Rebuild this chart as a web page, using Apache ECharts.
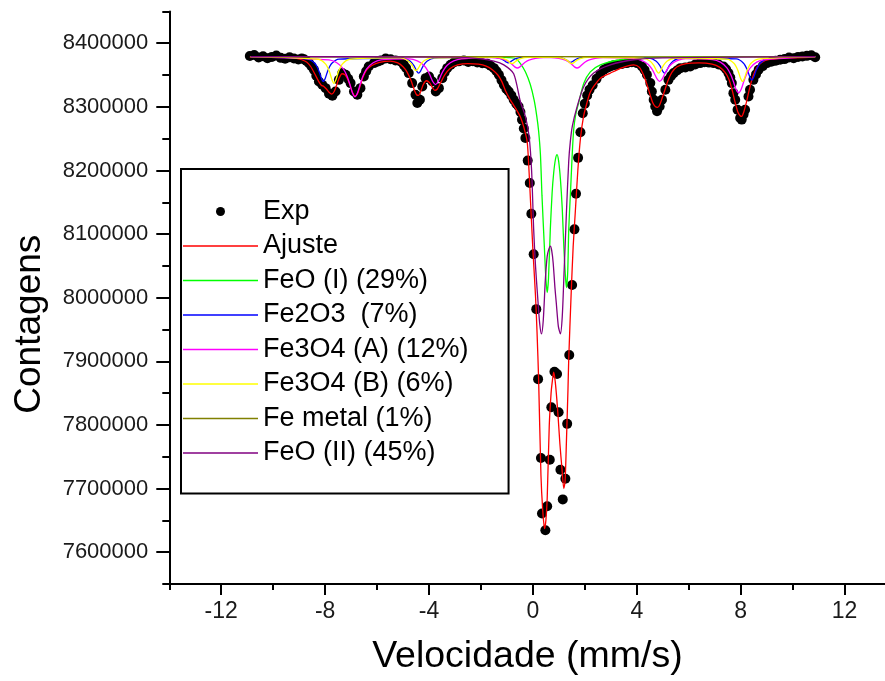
<!DOCTYPE html>
<html>
<head>
<meta charset="utf-8">
<script src="https://cdn.jsdelivr.net/npm/echarts@6/dist/echarts.min.js"></script>
<style>
html,body{margin:0;padding:0;background:#fff;overflow:hidden;}
#chart{width:900px;height:681px;}
</style>
</head>
<body>
<div id="chart"></div>
<script>
// Mössbauer spectrum: measured counts and fitted sub-spectra, [velocity mm/s, counts]

const expPoints = [
  [-10.90,8380000],[-10.73,8381500],[-10.56,8377500],[-10.39,8379500],[-10.22,8376500],[-10.05,8378500],
  [-9.88,8380500],[-9.71,8377000],[-9.54,8375500],[-9.37,8378000],[-9.20,8376000],[-9.03,8374500],
  [-8.90,8376000],[-8.81,8374800],[-8.72,8372000],[-8.62,8368700],[-8.53,8364000],[-8.43,8358200],
  [-8.34,8349000],[-8.24,8339900],[-8.11,8334600],[-7.98,8329400],[-7.85,8320500],[-7.72,8317300],
  [-7.60,8324100],[-7.47,8342400],[-7.34,8353000],[-7.21,8350300],[-7.11,8344000],[-7.02,8337300],
  [-6.89,8324100],[-6.76,8319000],[-6.64,8329400],[-6.51,8347700],[-6.42,8356000],[-6.32,8363400],
  [-6.12,8368700],[-5.99,8371000],[-5.86,8372800],[-5.67,8376000],[-5.48,8374800],[-5.29,8373000],
  [-5.10,8371200],[-4.97,8366000],[-4.88,8361000],[-4.78,8353000],[-4.65,8337300],[-4.52,8319000],
  [-4.45,8306000],[-4.35,8311200],[-4.26,8332000],[-4.13,8345100],[-4.00,8347700],[-3.87,8339900],
  [-3.74,8324100],[-3.62,8329400],[-3.49,8345100],[-3.40,8354000],[-3.30,8360800],[-3.17,8366000],
  [-3.04,8369700],[-2.85,8371500],[-2.66,8372800],[-2.49,8370500],[-2.31,8371800],[-2.14,8369700],
  [-1.95,8368500],[-1.76,8367600],[-1.63,8364500],[-1.50,8360800],[-1.40,8356000],[-1.31,8350300],
  [-1.21,8342000],[-1.12,8334600],[-1.02,8328000],[-0.93,8324100],[-0.83,8318000],[-0.74,8311200],
  [-0.64,8305000],[-0.55,8300600],[-0.48,8292000],[-0.42,8279700],[-0.35,8266000],[-0.29,8250900],
  [-0.20,8215500],[-0.12,8180400],[-0.06,8132000],[0.03,8068200],[0.13,7982000],[0.20,7872000],
  [0.31,7748000],[0.35,7660700],[0.48,7634500],[0.55,7672100],[0.65,7745300],[0.71,7827900],
  [0.83,7883700],[0.93,7880000],[0.99,7820000],[1.06,7729600],[1.15,7683000],[1.25,7715500],
  [1.32,7801700],[1.40,7909900],[1.51,8020000],[1.60,8107400],[1.66,8163300],[1.74,8219800],
  [1.83,8260000],[1.92,8290000],[2.00,8305000],[2.09,8318000],[2.18,8327000],[2.30,8334000],
  [2.45,8344000],[2.60,8352000],[2.73,8358200],[2.85,8361000],[2.98,8363400],[3.11,8365500],
  [3.24,8366000],[3.43,8367500],[3.62,8368700],[3.81,8370000],[4.01,8368700],[4.20,8363400],
  [4.30,8358000],[4.39,8350300],[4.52,8337300],[4.58,8324100],[4.65,8311200],[4.71,8300600],
  [4.78,8293000],[4.88,8300600],[4.97,8311200],[5.10,8326800],[5.22,8342400],[5.32,8348500],
  [5.42,8353000],[5.55,8357000],[5.68,8360800],[5.87,8362000],[6.06,8363400],[6.25,8366500],
  [6.44,8368700],[6.60,8370000],[6.78,8369500],[6.96,8368700],[7.15,8366500],[7.34,8363400],
  [7.44,8359000],[7.53,8353000],[7.60,8346000],[7.66,8337300],[7.72,8321500],[7.79,8311200],
  [7.88,8295500],[7.98,8282500],[8.04,8279900],[8.11,8288000],[8.17,8295500],[8.30,8316300],
  [8.36,8326800],[8.49,8342400],[8.59,8351000],[8.69,8358200],[8.85,8364000],[9.01,8368700],
  [9.18,8371000],[9.35,8372500],[9.52,8373900],[9.69,8375000],[9.86,8377500],[10.04,8376500],
  [10.21,8378500],[10.38,8379000],[10.55,8380100],[10.72,8381000],[10.87,8378000]
];

const fitPoints = [
  [-10.90,8378000],[-9.80,8378000],[-9.20,8377000],[-8.90,8374000],[-8.70,8370000],[-8.55,8363000],
  [-8.40,8352000],[-8.25,8340000],[-8.15,8334000],[-8.05,8332000],[-7.95,8328000],[-7.85,8323000],
  [-7.75,8320000],[-7.65,8324000],[-7.55,8335000],[-7.45,8346000],[-7.35,8352000],[-7.25,8351000],
  [-7.15,8345000],[-7.05,8335000],[-6.95,8323000],[-6.85,8317000],[-6.75,8321000],[-6.65,8333000],
  [-6.55,8346000],[-6.40,8358000],[-6.20,8365000],[-5.90,8370000],[-5.50,8372000],[-5.20,8369000],
  [-5.00,8363000],[-4.85,8355000],[-4.70,8342000],[-4.58,8328000],[-4.48,8319000],[-4.40,8318000],
  [-4.32,8324000],[-4.22,8335000],[-4.10,8341000],[-3.98,8338000],[-3.88,8331000],[-3.78,8326000],
  [-3.68,8328000],[-3.55,8338000],[-3.40,8350000],[-3.20,8360000],[-2.90,8366000],[-2.50,8368000],
  [-2.10,8367000],[-1.80,8364000],[-1.55,8358000],[-1.35,8350000],[-1.20,8340000],[-1.05,8325000],
  [-0.90,8313000],[-0.75,8303000],[-0.60,8293000],[-0.48,8284000],[-0.35,8268000],[-0.22,8245000],
  [-0.15,8200000],[-0.07,8133000],[0.00,8075000],[0.10,8003000],[0.16,7945000],[0.22,7872000],
  [0.31,7721000],[0.38,7665000],[0.45,7637000],[0.50,7650000],[0.55,7684000],[0.63,7799000],
  [0.70,7850000],[0.74,7866000],[0.80,7883000],[0.86,7868000],[0.95,7825000],[1.04,7770000],
  [1.12,7731000],[1.19,7700000],[1.24,7712000],[1.29,7773000],[1.35,7855000],[1.38,7904000],
  [1.47,8003000],[1.55,8080000],[1.63,8133000],[1.73,8200000],[1.83,8250000],[1.95,8285000],
  [2.08,8306000],[2.20,8322000],[2.34,8332000],[2.60,8345000],[2.98,8353000],[3.40,8361000],
  [3.88,8366000],[4.10,8362000],[4.26,8350000],[4.40,8334000],[4.52,8318000],[4.62,8306000],
  [4.72,8300000],[4.80,8299000],[4.88,8303000],[4.97,8313000],[5.07,8325000],[5.20,8341000],
  [5.35,8354000],[5.55,8363000],[5.90,8368000],[6.40,8369000],[6.90,8367000],[7.20,8362000],
  [7.40,8354000],[7.55,8343000],[7.68,8325000],[7.80,8305000],[7.90,8291000],[7.98,8286000],
  [8.04,8285000],[8.12,8292000],[8.22,8307000],[8.32,8325000],[8.42,8341000],[8.55,8356000],
  [8.70,8366000],[8.95,8373000],[9.40,8376000],[10.00,8377000],[10.87,8378000]
];

const feoOnePoints = [
  [-10.87,8379000],[-2.50,8379000],[-1.50,8378500],[-0.95,8377500],[-0.67,8376000],[-0.48,8368000],
  [-0.29,8355000],[-0.10,8335000],[0.05,8310000],[0.15,8285000],[0.22,8262000],[0.29,8225000],
  [0.35,8160000],[0.44,8081000],[0.50,8030000],[0.55,8008000],[0.60,8030000],[0.67,8107000],
  [0.74,8165000],[0.80,8196000],[0.87,8218000],[0.93,8225000],[0.99,8215000],[1.06,8186000],
  [1.13,8140000],[1.19,8081000],[1.25,8035000],[1.29,8016000],[1.34,8040000],[1.38,8107000],
  [1.44,8160000],[1.47,8186000],[1.51,8222000],[1.57,8264000],[1.65,8288000],[1.76,8306000],
  [1.96,8337000],[2.21,8355000],[2.60,8366000],[3.37,8374000],[4.26,8377000],[6.00,8378500],
  [10.87,8379000]
];

const fe2o3Points = [
  [-10.87,8379000],
  [-8.67,8375100],[-8.39,8368100],[-8.25,8357600],[-8.15,8345500],[-8.07,8340000],[-7.99,8345500],
  [-7.89,8357600],[-7.75,8368100],[-7.47,8375100],
  [-5.00,8376400],[-4.72,8371700],[-4.58,8364700],[-4.48,8356600],[-4.40,8353000],[-4.32,8356600],
  [-4.22,8364700],[-4.08,8371700],[-3.80,8376400],
  [-1.55,8378000],[-1.27,8376200],[-1.13,8373500],[-1.03,8370400],[-0.95,8369000],[-0.87,8370400],
  [-0.77,8373500],[-0.63,8376200],[-0.35,8378000],
  [0.85,8378100],[1.13,8376500],[1.27,8374000],[1.37,8371300],[1.45,8370000],[1.53,8371300],
  [1.63,8374000],[1.77,8376500],[2.05,8378100],
  [4.47,8376400],[4.75,8371700],[4.89,8364700],[4.99,8356600],[5.07,8353000],[5.15,8356600],
  [5.25,8364700],[5.39,8371700],[5.67,8376400],
  [7.83,8375300],[8.11,8368600],[8.25,8358700],[8.35,8347200],[8.43,8342000],[8.51,8347200],
  [8.61,8358700],[8.75,8368600],[9.03,8375300],
  [10.87,8379000]
];

const fe3o4APoints = [
  [-10.87,8379000],
  [-7.85,8373800],[-7.55,8369200],[-7.30,8359500],[-7.15,8347500],[-7.05,8335500],[-6.95,8322300],
  [-6.85,8316000],[-6.75,8322300],[-6.65,8335500],[-6.55,8347500],[-6.40,8359500],[-6.15,8369200],
  [-5.85,8373800],
  [-4.75,8375400],[-4.45,8372200],[-4.20,8365400],[-4.05,8357000],[-3.95,8348600],[-3.85,8339400],
  [-3.75,8335000],[-3.65,8339400],[-3.55,8348600],[-3.45,8357000],[-3.30,8365400],[-3.05,8372200],
  [-2.75,8375400],
  [-1.60,8377500],[-1.30,8376200],[-1.05,8373400],[-0.90,8370000],[-0.80,8366600],[-0.70,8362800],
  [-0.60,8361000],[-0.50,8362800],[-0.40,8366600],[-0.30,8370000],[-0.15,8373400],[0.10,8376200],
  [0.40,8377500],
  [0.70,8377500],[1.00,8376200],[1.25,8373400],[1.40,8370000],[1.50,8366600],[1.60,8362800],
  [1.70,8361000],[1.80,8362800],[1.90,8366600],[2.00,8370000],[2.15,8373400],[2.40,8376200],
  [2.70,8377500],
  [3.88,8375800],[4.18,8373000],[4.43,8366900],[4.58,8359500],[4.68,8352100],[4.78,8343900],
  [4.88,8340000],[4.98,8343900],[5.08,8352100],[5.18,8359500],[5.33,8366900],[5.58,8373000],
  [5.88,8375800],
  [6.92,8374300],[7.22,8370200],[7.47,8361300],[7.62,8350500],[7.72,8339700],[7.82,8327700],
  [7.92,8322000],[8.02,8327700],[8.12,8339700],[8.22,8350500],[8.37,8361300],[8.62,8370200],
  [8.92,8374300],
  [10.87,8379000]
];

const fe3o4BPoints = [
  [-10.87,8379000],
  [-8.26,8374800],[-7.98,8367200],[-7.84,8355900],[-7.74,8342900],[-7.66,8337000],[-7.58,8342900],
  [-7.48,8355900],[-7.34,8367200],[-7.06,8374800],
  [-5.10,8376800],[-4.82,8372800],[-4.68,8366900],[-4.58,8360100],[-4.50,8357000],[-4.42,8360100],
  [-4.32,8366900],[-4.18,8372800],[-3.90,8376800],
  [-1.40,8377900],[-1.12,8375900],[-0.98,8373000],[-0.88,8369500],[-0.80,8368000],[-0.72,8369500],
  [-0.62,8373000],[-0.48,8375900],[-0.20,8377900],
  [0.90,8377900],[1.18,8375900],[1.32,8373000],[1.42,8369500],[1.50,8368000],[1.58,8369500],
  [1.68,8373000],[1.82,8375900],[2.10,8377900],
  [4.24,8376400],[4.52,8371700],[4.66,8364700],[4.76,8356600],[4.84,8353000],[4.92,8356600],
  [5.02,8364700],[5.16,8371700],[5.44,8376400],
  [7.47,8375100],[7.75,8368100],[7.89,8357600],[7.99,8345500],[8.07,8340000],[8.15,8345500],
  [8.25,8357600],[8.39,8368100],[8.67,8375100],
  [10.87,8379000]
];

const feMetalPoints = [
  [-10.87,8379000],[-5.30,8378500],[0.00,8379000],[5.30,8378500],[10.87,8379000]
];

const feoTwoPoints = [
  [-10.87,8379000],[-3.00,8378000],[-2.00,8375500],[-1.50,8372000],[-1.12,8366000],[-0.74,8352000],
  [-0.48,8308000],[-0.29,8285000],[-0.15,8255000],[-0.05,8200000],[0.03,8107000],[0.10,8050000],
  [0.18,8003000],[0.26,7960000],[0.33,7943000],[0.40,7965000],[0.48,8029000],[0.55,8065000],
  [0.61,8076000],[0.67,8081000],[0.72,8075000],[0.78,8055000],[0.85,8015000],[0.90,7992000],
  [0.98,7955000],[1.06,7943000],[1.13,7970000],[1.19,8029000],[1.29,8133000],[1.38,8215000],
  [1.44,8245000],[1.52,8270000],[1.70,8300000],[1.96,8332000],[2.34,8353000],[2.98,8366000],
  [3.88,8374000],[5.00,8377000],[10.87,8379000]
];

const seriesNames = ['Exp', 'Ajuste', 'FeO (I) (29%)', 'Fe2O3  (7%)', 'Fe3O4 (A) (12%)',
                     'Fe3O4 (B) (6%)', 'Fe metal (1%)', 'FeO (II) (45%)'];

const xMajorTicks = [-12, -8, -4, 0, 4, 8, 12];
const xMinorTicks = [-14, -10, -6, -2, 2, 6, 10];
const yMajorTicks = [7600000, 7700000, 7800000, 7900000, 8000000, 8100000, 8200000, 8300000, 8400000];
const yMinorTicks = [7550000, 7650000, 7750000, 7850000, 7950000, 8050000, 8150000, 8250000, 8350000, 8450000];

const chart = echarts.init(document.getElementById('chart'), null, {renderer: 'canvas'});

const axisColor = '#000';
const sans = "'Liberation Sans', Arial, sans-serif";
const narrow = "'Liberation Sans Narrow', 'Arial Narrow', 'Liberation Sans', sans-serif";
const lineIcon = 'path://M0,0 L100,0 L100,2 L0,2 Z';

function curve(name, data, color) {
  return {
    name: name, type: 'line', data: data, symbol: 'none', smooth: 0.25,
    lineStyle: {color: color, width: 1.3}, itemStyle: {color: color},
    emphasis: {disabled: true}
  };
}

chart.setOption({
  animation: false,
  backgroundColor: '#fff',
  grid: {left: 169.3, top: 11.4, width: 727.2, height: 574.2},
  xAxis: [{
    type: 'value', min: -14, max: 14, position: 'bottom',
    axisLine: {onZero: false, lineStyle: {color: axisColor, width: 2}},
    axisTick: {customValues: xMajorTicks, length: 11, lineStyle: {color: axisColor, width: 2}},
    axisLabel: {customValues: xMajorTicks, margin: 16, fontSize: 23, fontFamily: narrow, color: '#1a1a1a'},
    splitLine: {show: false},
    name: 'Velocidade (mm/s)', nameLocation: 'middle', nameGap: 54,
    nameTextStyle: {fontSize: 37.5, fontFamily: sans, color: '#000', padding: [0, 11, 0, 0]}
  }, {
    type: 'value', min: -14, max: 14, position: 'bottom',
    axisLine: {show: false, onZero: false},
    axisTick: {customValues: xMinorTicks, length: 6, lineStyle: {color: axisColor, width: 2}},
    axisLabel: {show: false}, splitLine: {show: false}
  }],
  yAxis: [{
    type: 'value', min: 7550000, max: 8450000, position: 'left',
    axisLine: {show: true, onZero: false, lineStyle: {color: axisColor, width: 2}},
    axisTick: {show: true, customValues: yMajorTicks, length: 13, lineStyle: {color: axisColor, width: 2}},
    axisLabel: {customValues: yMajorTicks, margin: 21, fontSize: 22, fontFamily: sans, color: '#1a1a1a',
                formatter: v => String(v)},
    splitLine: {show: false},
    name: 'Contagens', nameLocation: 'middle', nameRotate: 90, nameGap: 121,
    nameTextStyle: {fontSize: 37, fontFamily: sans, color: '#000', padding: [0, 53, 0, 0]}
  }, {
    type: 'value', min: 7550000, max: 8450000, position: 'left',
    axisLine: {show: false, onZero: false},
    axisTick: {show: true, customValues: yMinorTicks, length: 7, lineStyle: {color: axisColor, width: 2}},
    axisLabel: {show: false}, splitLine: {show: false}
  }],
  legend: {
    orient: 'vertical', left: 181, top: 169,
    padding: [29, 40, 27, 2],
    backgroundColor: '#fff', borderColor: '#000', borderWidth: 2,
    itemWidth: 75, itemHeight: 9, itemGap: 7.5,
    selectedMode: false,
    textStyle: {fontSize: 27, fontFamily: sans, color: '#000'},
    data: seriesNames.map((n, i) => i === 0 ? {name: n, icon: 'circle'} : {name: n, icon: lineIcon})
  },
  series: [
    {
      name: seriesNames[0], type: 'scatter', data: expPoints, symbol: 'circle', symbolSize: 10,
      itemStyle: {color: '#000', opacity: 1}, emphasis: {disabled: true}
    },
    curve(seriesNames[1], fitPoints, '#ff0000'),
    curve(seriesNames[2], feoOnePoints, '#00ff00'),
    curve(seriesNames[3], fe2o3Points, '#0000ff'),
    curve(seriesNames[4], fe3o4APoints, '#ff00ff'),
    curve(seriesNames[5], fe3o4BPoints, '#ffff00'),
    curve(seriesNames[6], feMetalPoints, '#808000'),
    curve(seriesNames[7], feoTwoPoints, '#800080')
  ]
});
</script>
</body>
</html>
